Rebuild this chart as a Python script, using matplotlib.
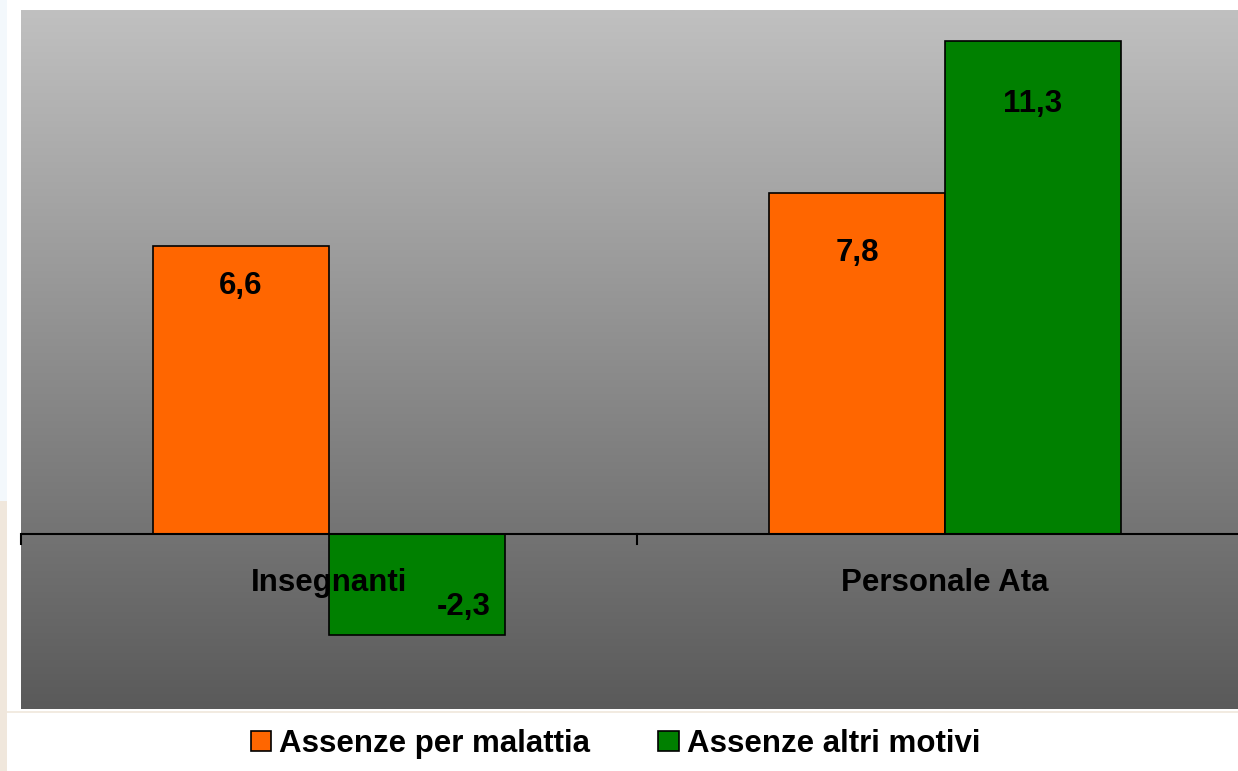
import numpy as np
import matplotlib.pyplot as plt
from matplotlib.patches import Patch, Rectangle
from matplotlib.colors import LinearSegmentedColormap

categories = ['Insegnanti', 'Personale Ata']
series_names = ['Assenze per malattia', 'Assenze altri motivi']
malattia = [6.6, 7.8]
altri_motivi = [-2.3, 11.3]
value_labels = [['6,6', '7,8'], ['-2,3', '11,3']]

# label placement tweaks (data units), per series / category
label_dy = [[-1.10, -1.55], [0.46, -1.63]]
label_dx = [[0.0, 0.0], [0.075, 0.0]]

colors = ['#ff6600', '#008000']
plt.rcParams['font.family'] = ['Liberation Sans', 'DejaVu Sans']
plt.rcParams['font.weight'] = 'bold'
fs = 22.5

fig = plt.figure(figsize=(12.38, 7.71), dpi=100)
fig.patch.set_facecolor('white')
# thin strip on the left edge
fig.add_artist(Rectangle((0, 0), 7 / 1238, 270 / 771, transform=fig.transFigure,
                         facecolor='#f0e7dc', edgecolor='none'))
fig.add_artist(Rectangle((0, 270 / 771), 7 / 1238, 1, transform=fig.transFigure,
                         facecolor='#f3f8fc', edgecolor='none'))
fig.add_artist(plt.Line2D([7 / 1238, 1], [59 / 771, 59 / 771], transform=fig.transFigure,
                          color='#f0e7dc', lw=1.2))

ax = fig.add_axes([21 / 1238, 62 / 771, 1232 / 1238, 699 / 771])
ymin, ymax = -4, 12
ax.set_xlim(-0.5, 1.5)
ax.set_ylim(ymin, ymax)

cmap = LinearSegmentedColormap.from_list('bg', ['#5a5a5a', '#c0c0c0'])
grad = np.linspace(0, 1, 256).reshape(-1, 1)
ax.imshow(grad, extent=[-0.5, 1.5, ymin, ymax], origin='lower', aspect='auto',
          cmap=cmap, zorder=0)

x = np.arange(len(categories))
w = 0.2857
all_vals = [malattia, altri_motivi]
for s, vals in enumerate(all_vals):
    pos = x - w / 2 + s * w
    ax.bar(pos, vals, width=w, color=colors[s], edgecolor='black', linewidth=1.2, zorder=2)
    for i, v in enumerate(vals):
        ax.text(pos[i] + label_dx[s][i], v + label_dy[s][i], value_labels[s][i],
                ha='center', va='baseline', fontsize=fs, fontweight='bold', zorder=4)

ax.axhline(0, color='black', lw=1.5, zorder=3)
for b in [-0.5, 0.5, 1.5]:
    ax.plot([b, b], [0, -0.23], color='black', lw=1.5, zorder=3, clip_on=False)

for i, c in enumerate(categories):
    ax.text(x[i], -1.30, c, ha='center', va='baseline', fontsize=fs,
            fontweight='bold', zorder=4)

ax.set_xticks([])
ax.set_yticks([])
for sp in ax.spines.values():
    sp.set_visible(False)

handles = [Patch(facecolor=colors[s], edgecolor='black', linewidth=1.2, label=series_names[s])
           for s in range(2)]
fig.legend(handles=handles, loc='center', bbox_to_anchor=(0.497, 27 / 771), ncol=2,
           frameon=False, handlelength=0.65, handleheight=0.65,
           handletextpad=0.25, columnspacing=2.2, prop={'weight': 'bold', 'size': fs})

fig.savefig('out.png', dpi=100)
